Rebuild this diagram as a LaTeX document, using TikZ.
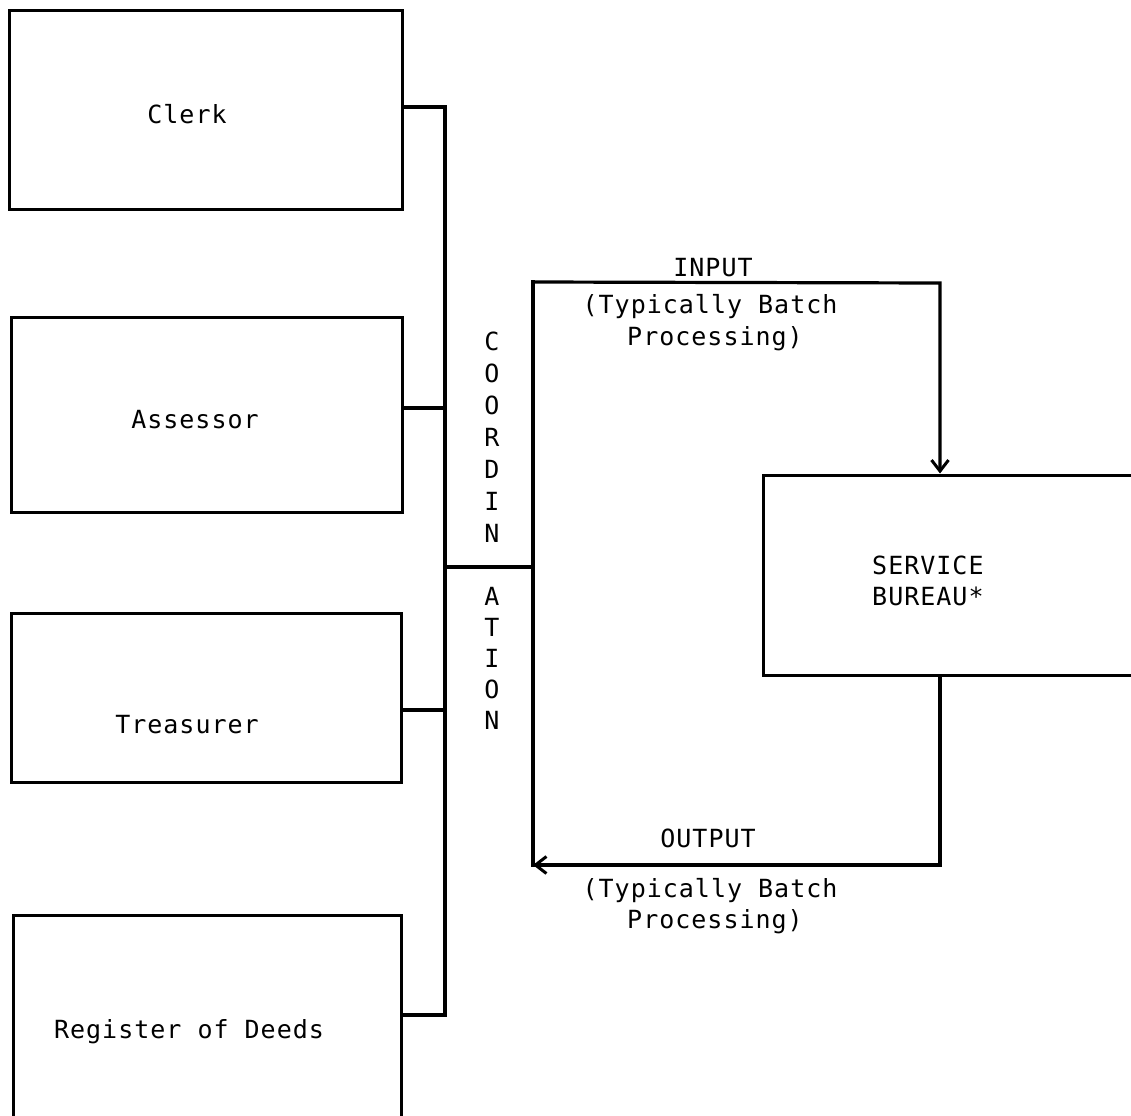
\documentclass[tikz,border=0pt]{standalone}
\usepackage{fontspec}
\newfontfamily\typewr{DejaVu Sans Mono}[LetterSpace=4]
\usetikzlibrary{arrows.meta}
\begin{document}
\begin{tikzpicture}[x=1pt,y=-1pt,
  office/.style={draw, line width=3pt, inner sep=0pt},
  wire/.style={draw, line width=3.2pt, line cap=rect, line join=miter},
  flow/.style={wire, -{Straight Barb[length=11pt,width=17pt,line width=3pt]}},
  lbl/.style={font=\typewr\fontsize{25}{31}\selectfont, inner sep=0pt}]
\useasboundingbox (0,0) rectangle (1131,1115);

% county offices
\node[office, minimum width=393pt, minimum height=199pt] (clerk)    at (205.5,110.5) {};
\node[office, minimum width=391pt, minimum height=195pt] (assessor) at (206.5,414.5) {};
\node[office, minimum width=390pt, minimum height=169pt] (treas)    at (206,697.5) {};
\node[office, minimum width=388pt, minimum height=210pt] (register) at (207,1020) {};

\node[lbl, anchor=base] (clerkT)    at (187,124)  {Clerk};
\node[lbl, anchor=base] (assessorT) at (195,428)  {Assessor};
\node[lbl, anchor=base] (treasT)    at (187,733)  {Treasurer};
\node[lbl, anchor=base] (registerT) at (189,1038) {Register of Deeds};

% service bureau
\node[office, minimum width=382pt, minimum height=200pt] (bureau) at (954,575) {};
\node[lbl, anchor=base west] (svcT) at (872,574) {SERVICE};
\node[lbl, anchor=base west] (burT) at (872,605) {BUREAU*};

% coordination bus
\coordinate (busTop) at (445,107);
\coordinate (jA)     at (445,408);
\coordinate (jC)     at (445,567);
\coordinate (jT)     at (445,710);
\coordinate (busBot) at (445,1015);
\coordinate (loopW)  at (533,567);
\coordinate (inCorner) at (533,282);
\coordinate (outEnd)   at (533,865);
\coordinate (inTurn)   at (940,283);

\draw[wire] (clerk.east |- busTop) -- (busTop) -- (busBot) -- (register.east |- busBot);
\draw[wire] (assessor.east |- jA) -- (jA);
\draw[wire] (treas.east |- jT) -- (jT);
\draw[wire] (jC) -- (loopW);
\draw[wire] (inCorner) -- (outEnd);

% input and output flows
\draw[flow] (inCorner) -- (inTurn) -- (bureau.north -| inTurn);
\draw[flow] (bureau.south -| inTurn) -- (inTurn |- outEnd) -- (outEnd);

\node[lbl, anchor=base] (inT)  at (713,276) {INPUT};
\node[lbl, anchor=base] (inS1) at (710,313) {(Typically Batch};
\node[lbl, anchor=base] (inS2) at (715,345) {Processing)};

\node[lbl, anchor=base] (outT)  at (708,847) {OUTPUT};
\node[lbl, anchor=base] (outS1) at (710,897) {(Typically Batch};
\node[lbl, anchor=base] (outS2) at (715,928) {Processing)};

% vertical caption split by the coordination line
\foreach \ch [count=\i] in {C,O,O,R,D,I,N}
  \node[lbl] (coA\i) at (492,341+32*\i-32) {\ch};
\foreach \ch [count=\i] in {A,T,I,O,N}
  \node[lbl] (coB\i) at (492,596+31*\i-31) {\ch};
\end{tikzpicture}
\end{document}
